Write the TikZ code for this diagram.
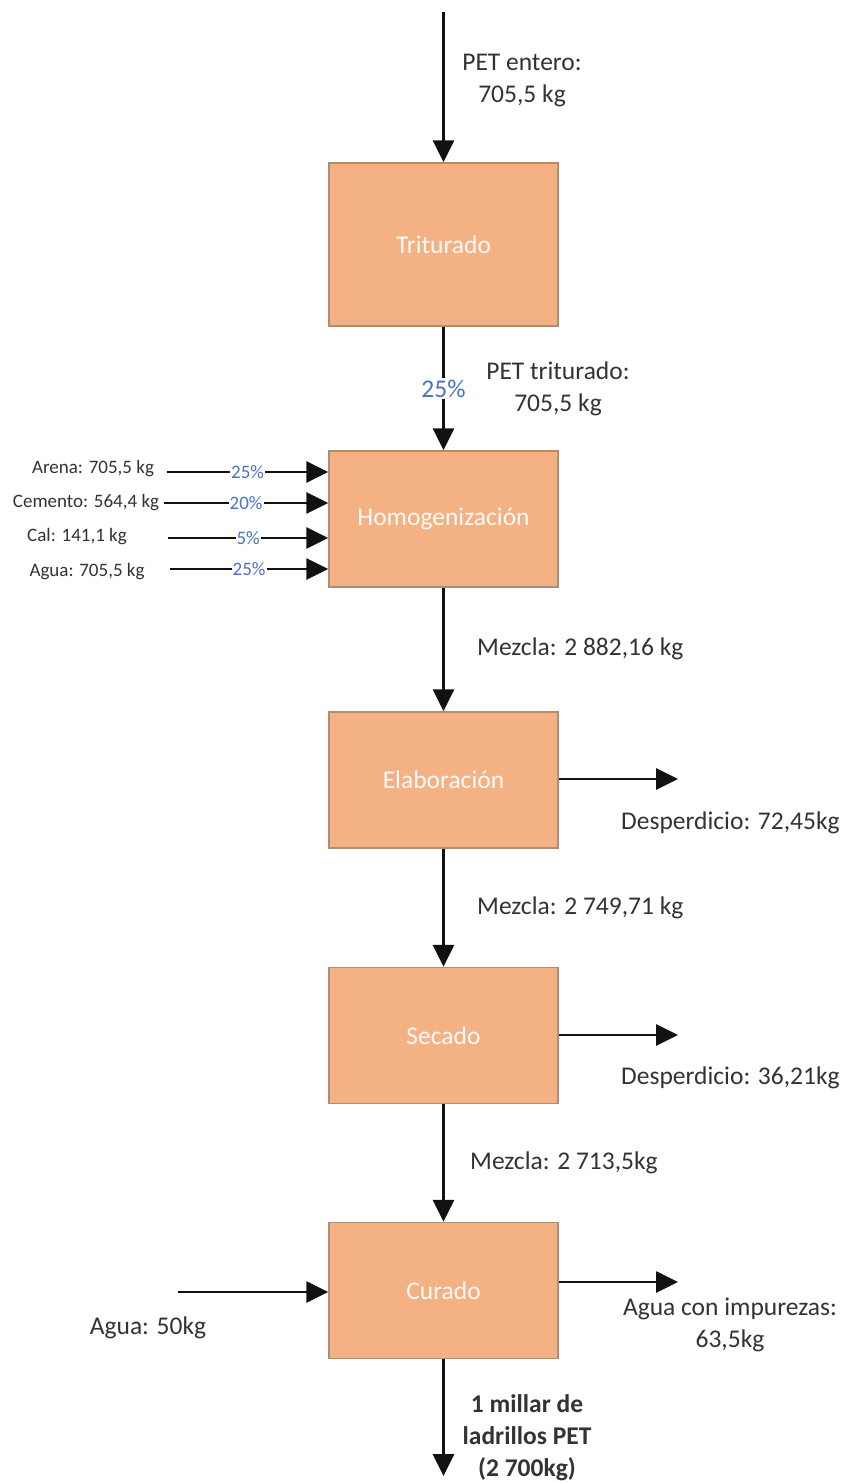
\documentclass[tikz,border=0pt]{standalone}
\usepackage{fontspec}
\setmainfont{Carlito}
\usetikzlibrary{arrows.meta}
\definecolor{boxfill}{HTML}{F4B183}
\definecolor{boxline}{HTML}{B08C70}
\definecolor{pctblue}{HTML}{4A72C0}
\definecolor{txt}{HTML}{333333}
\definecolor{arr}{HTML}{111111}
\tikzset{
  proc/.style={rectangle, draw=boxline, line width=1.5pt, fill=boxfill, text={white!94!boxfill},
    minimum width=229pt, minimum height=136pt, font=\fontsize{25.5}{32}\selectfont},
  flow/.style={draw=arr, line width=2.8pt, -{Triangle[length=22pt,width=21pt]}},
  lbl/.style={text=txt, font=\fontsize{25.5}{32}\selectfont, align=center, inner sep=0pt},
  slbl/.style={text=txt, font=\fontsize{19}{24}\selectfont, inner sep=0pt},
  pct/.style={text=pctblue, fill=white, inner sep=1pt, font=\fontsize{19}{24}\selectfont},
  pctbig/.style={text=pctblue, fill=white, inner sep=2pt, font=\fontsize{25.5}{32}\selectfont}
}
\begin{document}
\begin{tikzpicture}[x=1pt,y=-1pt]
\useasboundingbox[fill=white] (0,0) rectangle (845,1483);

% process boxes
\node[proc, minimum height=163pt] (tri) at (443.5,244.5) {Triturado};
\node[proc] (hom) at (443.5,519) {Homogenización};
\node[proc] (ela) at (443.5,780) {Elaboración};
\node[proc] (sec) at (443.5,1035.5) {Secado};
\node[proc] (cur) at (443.5,1290.5) {Curado};

% main vertical flow
\coordinate (top) at (443.5,12);
\coordinate (bot) at (443.5,1476);
\draw[flow] (top) -- (tri.north);
\draw[flow] (tri.south) -- node[pctbig] {25\%} (hom.north);
\draw[flow] (hom.south) -- (ela.north);
\draw[flow] (ela.south) -- (sec.north);
\draw[flow] (sec.south) -- (cur.north);
\draw[flow] (cur.south) -- (bot);

% flow labels
\node[lbl] (l1) at (522,81) {PET entero:\\705,5 kg};
\node[lbl] (l2) at (558,389) {PET triturado:\\705,5 kg};
\node[lbl, anchor=west] (l3) at (477,649) {Mezcla: 2 882,16 kg};
\node[lbl, anchor=west] (l4) at (477,908) {Mezcla: 2 749,71 kg};
\node[lbl, anchor=west] (l5) at (470,1163) {Mezcla: 2 713,5kg};
\node[lbl, font=\fontsize{25.5}{32}\selectfont\bfseries] (l6) at (527,1438) {1 millar de\\ladrillos PET\\(2 700kg)};

% left inputs to Homogenizacion
\coordinate (i1) at (167,472);
\coordinate (i2) at (164,503);
\coordinate (i3) at (168,538);
\coordinate (i4) at (170,569);
\draw[flow] (i1) -- node[pct, pos=0.5] {25\%} (i1 -| hom.west);
\draw[flow] (i2) -- node[pct, pos=0.5] {20\%} (i2 -| hom.west);
\draw[flow] (i3) -- node[pct, pos=0.5] {5\%} (i3 -| hom.west);
\draw[flow] (i4) -- node[pct, pos=0.5] {25\%} (i4 -| hom.west);
\node[slbl] (s1) at (93,469) {Arena: 705,5 kg};
\node[slbl] (s2) at (86,503) {Cemento: 564,4 kg};
\node[slbl] (s3) at (77,537) {Cal: 141,1 kg};
\node[slbl] (s4) at (87,572) {Agua: 705,5 kg};

% right outputs
\coordinate (o1) at (678,779);
\coordinate (o2) at (678,1035);
\coordinate (o3) at (678,1282);
\draw[flow] (o1 -| ela.east) -- (o1);
\draw[flow] (o2 -| sec.east) -- (o2);
\draw[flow] (o3 -| cur.east) -- (o3);
\node[lbl, anchor=west] (r1) at (621,823) {Desperdicio: 72,45kg};
\node[lbl, anchor=west] (r2) at (621,1078) {Desperdicio: 36,21kg};
\node[lbl] (r3) at (730,1325) {Agua con impurezas:\\63,5kg};

% water input to Curado
\coordinate (w1) at (178,1292);
\draw[flow] (w1) -- (w1 -| cur.west);
\node[lbl] (wl) at (148,1328) {Agua: 50kg};
\end{tikzpicture}
\end{document}
